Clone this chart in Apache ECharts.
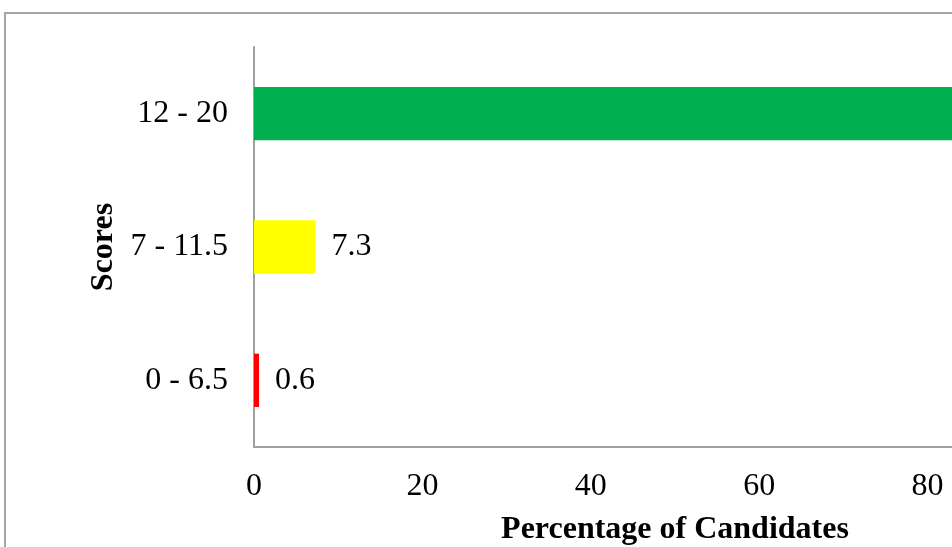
<!DOCTYPE html>
<html>
<head>
<meta charset="utf-8">
<script src="https://cdn.jsdelivr.net/npm/echarts@6/dist/echarts.min.js"></script>
<style>
  html, body { margin: 0; padding: 0; background: #fff; }
  #chart { width: 952px; height: 547px; }
</style>
</head>
<body>
<div id="chart"></div>
<script>
// Score bands, bottom to top
const categories = ['0 - 6.5', '7 - 11.5', '12 - 20'];
// Share of candidates in each band (%)
const percentages = [0.6, 7.3, 92.1];
const barColors = ['#FF0000', '#FFFF00', '#00B050'];
const xTicks = [0, 20, 40, 60, 80, 100];

const serif = '"Liberation Serif", "Times New Roman", serif';
const chart = echarts.init(document.getElementById('chart'));

chart.setOption({
  animation: false,
  backgroundColor: '#ffffff',
  graphic: [{
    type: 'rect',
    shape: { x: 5, y: 13, width: 1100, height: 700 },
    style: { fill: 'none', stroke: '#a6a6a6', lineWidth: 2 },
    silent: true
  }],
  // the plot area runs past the right edge of the canvas
  grid: { left: 254, top: 47, width: 842, height: 400, outerBoundsMode: 'none', containLabel: false },
  xAxis: {
    type: 'value',
    min: xTicks[0],
    max: xTicks[xTicks.length - 1],
    interval: xTicks[1] - xTicks[0],
    name: 'Percentage of Candidates',
    nameLocation: 'middle',
    nameGap: 67,
    nameTextStyle: { fontFamily: serif, fontSize: 32, fontWeight: 'bold', color: '#000' },
    axisLine: { show: true, lineStyle: { color: '#a0a0a0', width: 2 } },
    axisTick: { show: false },
    splitLine: { show: false },
    axisLabel: { fontFamily: serif, fontSize: 32, color: '#000', margin: 24 }
  },
  yAxis: {
    type: 'category',
    data: categories,
    name: 'Scores',
    nameLocation: 'middle',
    nameGap: 134,
    nameTextStyle: { fontFamily: serif, fontSize: 32, fontWeight: 'bold', color: '#000' },
    axisLine: { show: true, lineStyle: { color: '#a0a0a0', width: 2 } },
    axisTick: { show: false },
    axisLabel: { fontFamily: serif, fontSize: 32, color: '#000', margin: 26, padding: [4, 0, 0, 0] }
  },
  series: [{
    type: 'bar',
    barWidth: '40%',
    data: percentages.map((v, i) => ({ value: v, itemStyle: { color: barColors[i] } })),
    label: {
      show: true,
      position: 'right',
      distance: 16,
      fontFamily: serif,
      fontSize: 32,
      color: '#000',
      padding: [4, 0, 0, 0]
    }
  }]
});
</script>
</body>
</html>
